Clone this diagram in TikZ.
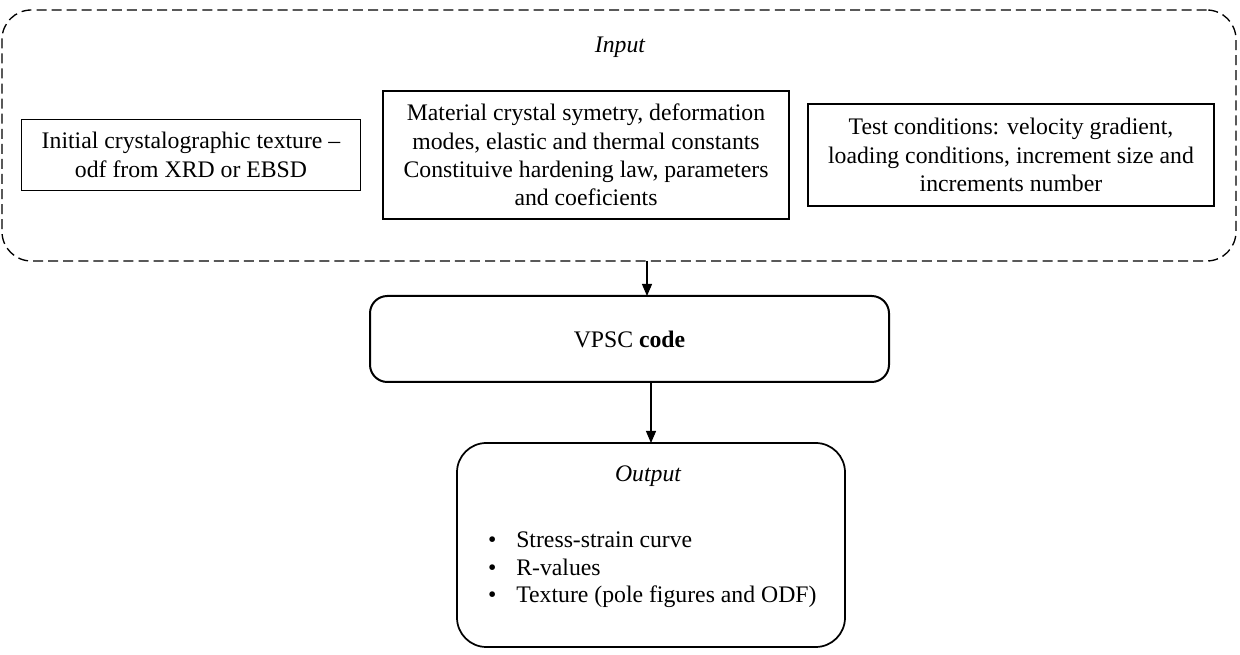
\documentclass[tikz,border=0pt]{standalone}
\usepackage{fontspec}
\setmainfont{Liberation Serif}
\usetikzlibrary{arrows.meta,calc}
\begin{document}
\begin{tikzpicture}[x=0.75pt,y=-0.75pt,
  every node/.style={font=\fontsize{17.8}{21.2}\selectfont, inner sep=0pt, outer sep=0pt},
  inbox/.style={draw, line width=1.1pt, align=center},
  conn/.style={line width=0.8pt, -{Triangle[length=9pt,width=7.5pt]}},
]
\useasboundingbox (0,0) rectangle (1240,655);
% input container
\node[draw, dash pattern=on 7.5pt off 3.8pt, line width=1pt, rounded corners=22pt,
      minimum width=1234*0.75pt, minimum height=251*0.75pt] (input) at (619,135.5) {};
\node (intitle) at (620,47) {\itshape Input};
\node[inbox, minimum width=339*0.75pt, minimum height=71*0.75pt] (tex) at (191,155)
  {Initial crystalographic texture --\\odf from XRD or EBSD};
\node[inbox, minimum width=406*0.75pt, minimum height=128*0.75pt] (mat) at (586,155)
  {Material crystal symetry, deformation\\modes, elastic and thermal constants\\Constituive hardening law, parameters\\and coeficients};
\node[inbox, minimum width=406*0.75pt, minimum height=102*0.75pt] (test) at (1011,155)
  {Test conditions: velocity gradient,\\loading conditions, increment size and\\increments number};
% VPSC
\node[draw, line width=1.5pt, rounded corners=13pt, minimum width=519*0.75pt, minimum height=86*0.75pt] (vpsc) at (629.5,339)
  {VPSC \textbf{code}};
% output
\node[draw, line width=1.3pt, rounded corners=22pt, minimum width=388*0.75pt, minimum height=204*0.75pt] (out) at (651,545) {};
\node (outtitle) at (648,476) {\itshape Output};
\node[anchor=north west, align=left] (list) at (488,528)
  {\begin{tabular}{@{}l@{\hspace{15pt}}l@{}}
   \textbullet & Stress-strain curve\\[-0.5pt]
   \textbullet & R-values\\[-0.5pt]
   \textbullet & Texture (pole figures and ODF)
   \end{tabular}};
% connectors
\coordinate (a1) at (647,0);
\coordinate (a2) at (651,0);
\draw[conn] (input.south -| a1) -- (vpsc.north -| a1);
\draw[conn] (vpsc.south -| a2) -- (out.north -| a2);
\end{tikzpicture}
\end{document}
